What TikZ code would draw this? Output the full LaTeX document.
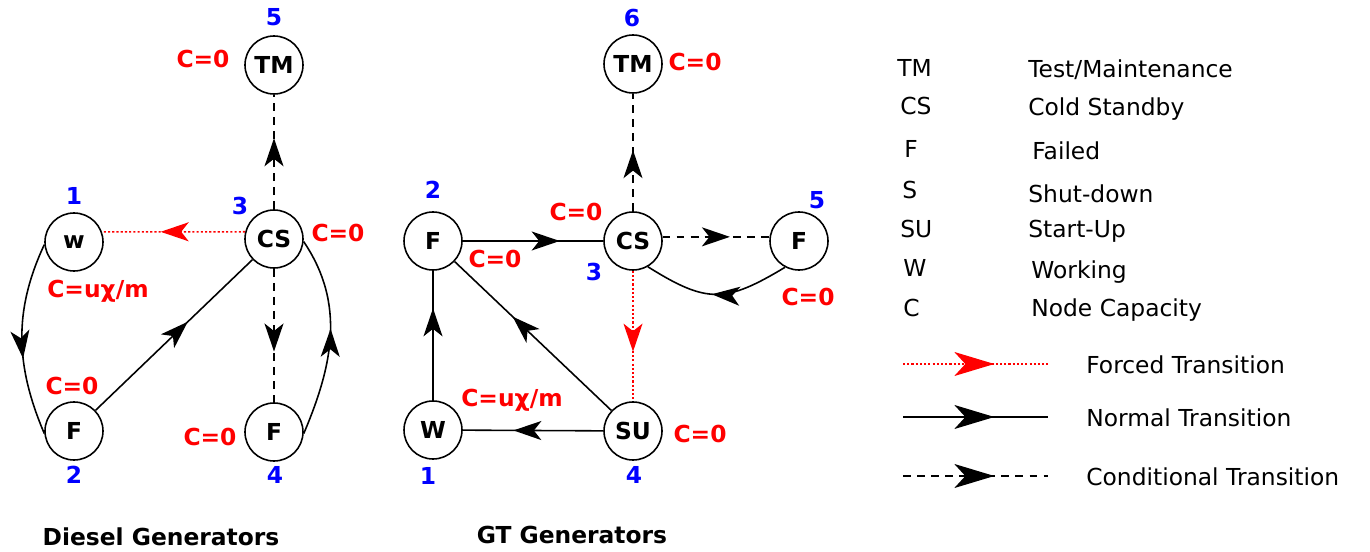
\documentclass[tikz,border=0pt]{standalone}
\usepackage{fontspec}
\setmainfont{DejaVu Sans}
\usetikzlibrary{arrows.meta,decorations.markings}
\definecolor{capred}{RGB}{255,0,0}
\definecolor{numblue}{RGB}{0,0,255}
\newcommand\lblsize{\fontsize{13.3}{16}\selectfont}
\tikzset{
  statenode/.style={circle,draw,line width=0.9pt,minimum size=11.6mm,inner sep=0pt,
    font=\lblsize\bfseries},
  capval/.style={text=capred,font=\lblsize\bfseries,anchor=base},
  numlbl/.style={text=numblue,font=\lblsize\bfseries,anchor=base},
  grouptitle/.style={font=\lblsize\bfseries,anchor=base},
  keytext/.style={font=\lblsize,anchor=base west,inner sep=0pt},
  % transitions, arrow tip half way along
  mid/.style={postaction={decorate,decoration={markings,
    mark=at position #1 with {\arrow{Stealth[length=5.6mm,width=3.8mm,inset=1.5mm]}}}}},
  mid/.default=0.62,
  keymid/.style={postaction={decorate,decoration={markings,
    mark=at position #1 with {\arrow{Stealth[length=8mm,width=4.8mm,inset=2.2mm]}}}}},
  keymid/.default=0.63,
  normaltr/.style={line width=0.9pt},
  condtr/.style={line width=0.9pt,dash pattern=on 4.5pt off 3.5pt},
  forcedtr/.style={capred,line width=0.9pt,dash pattern=on 1.2pt off 1.2pt},
}

\begin{document}
\begin{tikzpicture}[x=2mm,y=2mm]
  \useasboundingbox[fill=white] (0,0) rectangle (137,-55.2);

  % Diesel generators
  \node[statenode] (dTM) at (27.4,-6.5) {TM};
  \node[statenode] (dW) at (7.4,-24.2) {w};
  \node[statenode] (dCS) at (27.4,-23.9) {CS};
  \node[statenode] (dF2) at (7.4,-43.1) {F};
  \node[statenode] (dF4) at (27.4,-43.2) {F};

  \node[numlbl] (dn5) at (27.4,-2.6) {5};
  \node[numlbl] (dn1) at (7.4,-20.5) {1};
  \node[numlbl] (dn3) at (24.0,-21.5) {3};
  \node[numlbl] (dn2) at (7.4,-48.4) {2};
  \node[numlbl] (dn4) at (27.5,-48.4) {4};
  \node[capval] (dcTM) at (20.3,-6.8) {C=0};
  \node[capval] (dcCS) at (33.8,-24.2) {C=0};
  \node[capval] (dcW) at (9.8,-29.8) {C=uχ/m};
  \node[capval] (dcF2) at (7.2,-39.5) {C=0};
  \node[capval] (dcF4) at (21.0,-44.6) {C=0};
  \node[grouptitle] (dtitle) at (16.1,-54.5) {Diesel Generators};

  \draw[forcedtr,mid=0.59] (dCS.166) -- (dW.20);
  \draw[condtr,mid] (dCS) -- (dTM);
  \draw[condtr,mid] (dCS) -- (dF4);
  \draw[normaltr,mid=0.59] (dF2) -- (dCS);
  \draw[normaltr,mid=0.6] (dW.185) to[out=245,in=113] (dF2.185);
  \draw[normaltr,mid=0.54] (dF4.-3) to[out=67,in=-56] (dCS.-5);

  % GT generators
  \node[statenode] (gTM) at (63.3,-6.4) {TM};
  \node[statenode] (gF2) at (43.3,-24.1) {F};
  \node[statenode] (gCS) at (63.3,-24.1) {CS};
  \node[statenode] (gF5) at (79.9,-24.1) {F};
  \node[statenode] (gW) at (43.3,-43.0) {W};
  \node[statenode] (gSU) at (63.3,-43.1) {SU};

  \node[numlbl] (gn6) at (63.2,-2.7) {6};
  \node[numlbl] (gn2) at (43.3,-19.9) {2};
  \node[numlbl] (gn3) at (59.4,-28.1) {3};
  \node[numlbl] (gn5) at (81.7,-20.9) {5};
  \node[numlbl] (gn1) at (42.8,-48.5) {1};
  \node[numlbl] (gn4) at (63.4,-48.3) {4};
  \node[capval] (gcTM) at (69.5,-7.1) {C=0};
  \node[capval] (gcCS) at (57.6,-22.1) {C=0};
  \node[capval] (gcF2) at (49.5,-26.8) {C=0};
  \node[capval] (gcF5) at (80.8,-30.6) {C=0};
  \node[capval] (gcW) at (51.2,-40.7) {C=uχ/m};
  \node[capval] (gcSU) at (70.0,-44.3) {C=0};
  \node[grouptitle] (gtitle) at (57.2,-54.3) {GT Generators};

  \draw[normaltr,mid=0.69] (gF2) -- (gCS);
  \draw[condtr,mid=0.52] (gCS) -- (gTM);
  \draw[condtr,mid=0.63] (gCS.8) -- (gF5.172);
  \draw[normaltr,mid=0.53] (gF5.242) to[out=211,in=-32,looseness=1.3] (gCS.300);
  \draw[forcedtr,mid=0.62] (gCS) -- (gSU);
  \draw[normaltr,mid=0.63] (gSU) -- (gF2);
  \draw[normaltr,mid=0.64] (gSU) -- (gW);
  \draw[normaltr,mid=0.71] (gW) -- (gF2);

  % legend
  \foreach \a/\ax/\ay/\d/\dx/\dy [count=\i] in {
      TM/89.7/7.7/{Test/Maintenance}/102.8/7.8,
      CS/90.0/11.5/Cold Standby/102.8/11.6,
      F/90.4/15.8/Failed/103.2/16.0,
      S/90.2/19.9/Shut-down/102.8/20.3,
      SU/90.0/23.8/Start-Up/102.8/23.8,
      W/90.3/27.7/Working/103.1/27.9,
      C/90.3/31.7/Node Capacity/103.1/31.7}{
    \node[keytext] (ab\i) at (\ax,-\ay) {\a};
    \node[keytext] (de\i) at (\dx,-\dy) {\d};
  }
  \foreach \s/\y/\t [count=\i] in {
      forcedtr/36.4/Forced Transition,
      normaltr/41.7/Normal Transition,
      condtr/47.6/Conditional Transition}{
    \coordinate (ka\i) at (90.3,-\y);
    \coordinate (kb\i) at (104.8,-\y);
    \draw[\s,keymid] (ka\i) -- (kb\i);
    \node[keytext] (kt\i) at (108.6,-\y-0.95) {\t};
  }
\end{tikzpicture}
\end{document}
